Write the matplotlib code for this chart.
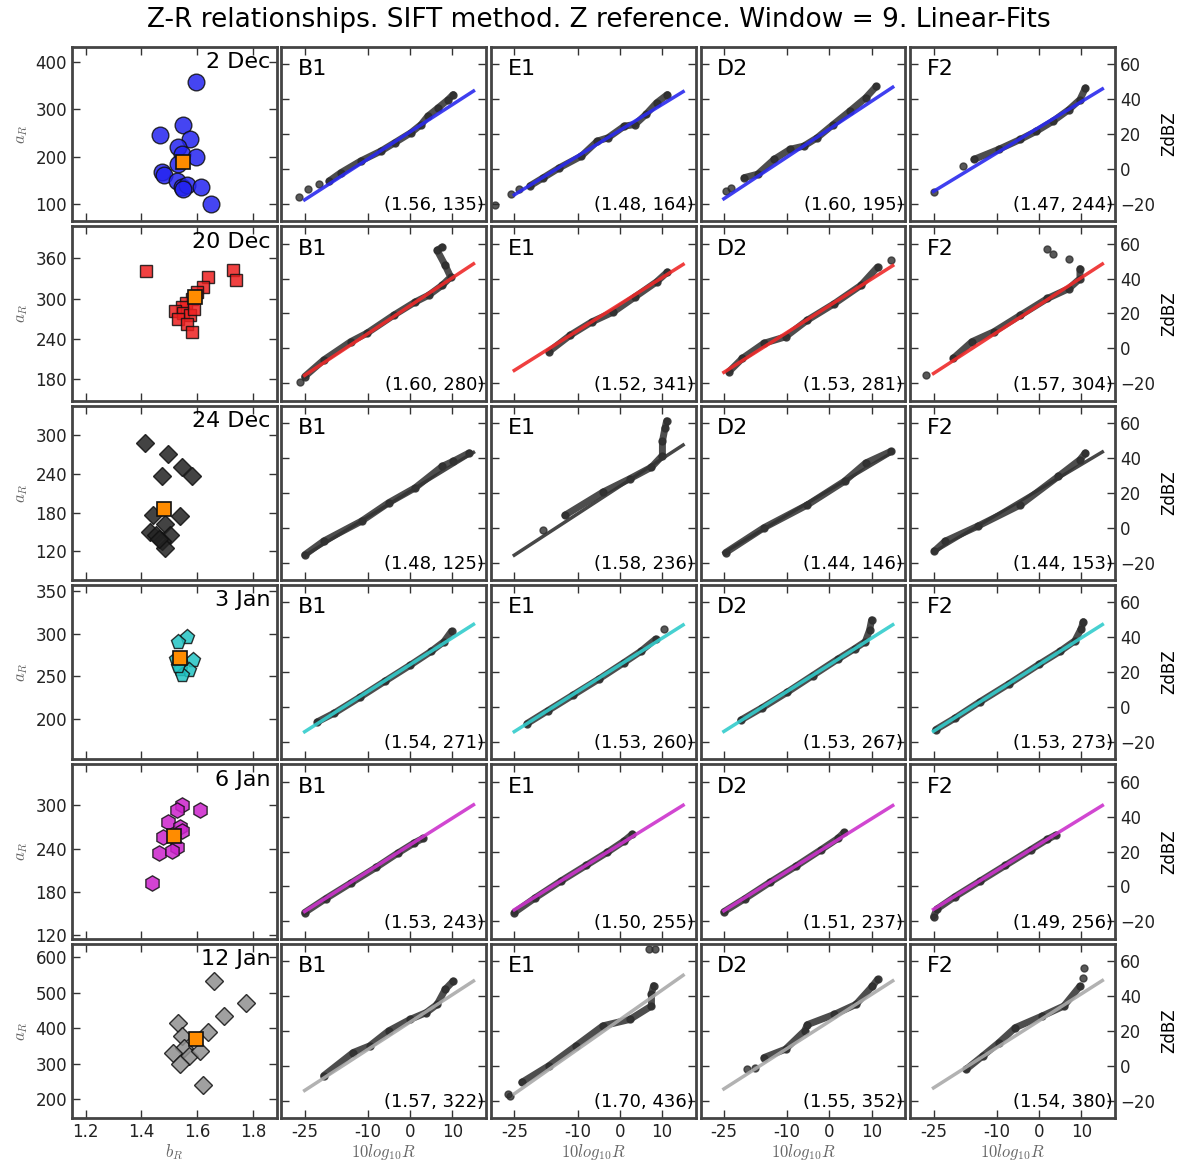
import matplotlib
matplotlib.use("Agg")
import matplotlib.pyplot as plt
import numpy as np

plt.rcParams['mathtext.fontset'] = 'cm'

# rows = days, columns = gauges
dates = ['2 Dec', '20 Dec', '24 Dec', '3 Jan', '6 Jan', '12 Jan']
gauges = ['B1', 'E1', 'D2', 'F2']

# fitted (b, a) shown in each panel
fit_b = [[1.56, 1.48, 1.60, 1.47],
         [1.60, 1.52, 1.53, 1.57],
         [1.48, 1.58, 1.44, 1.44],
         [1.54, 1.53, 1.53, 1.53],
         [1.53, 1.50, 1.51, 1.49],
         [1.57, 1.70, 1.55, 1.54]]
fit_a = [[135, 164, 195, 244],
         [280, 341, 281, 304],
         [125, 236, 146, 153],
         [271, 260, 267, 273],
         [243, 255, 237, 256],
         [322, 436, 352, 380]]

# left column: b_R / a_R clouds for each day
bR_2dec = [1.597, 1.466, 1.549, 1.573, 1.531, 1.544, 1.597, 1.531, 1.475, 1.48, 1.526, 1.544, 1.562, 1.549, 1.615, 1.651]
aR_2dec = [358, 246, 266, 237, 220, 206, 199, 185, 167, 160, 148, 135, 139, 131, 135, 100]
bR_20dec = [1.415, 1.728, 1.74, 1.64, 1.62, 1.60, 1.58, 1.56, 1.545, 1.52, 1.55, 1.575, 1.53, 1.565, 1.58, 1.59]
aR_20dec = [341, 343, 328, 332, 318, 310, 300, 293, 288, 282, 278, 275, 270, 262, 250, 285]
bR_24dec = [1.412, 1.496, 1.474, 1.547, 1.580, 1.442, 1.538, 1.484, 1.432, 1.454, 1.502, 1.472, 1.484, 1.462]
aR_24dec = [287, 270, 236, 250, 237, 176, 175, 163, 150, 146, 146, 136, 125, 140]
bR_3jan = [1.562, 1.531, 1.585, 1.523, 1.538, 1.571, 1.544, 1.53]
aR_3jan = [296, 290, 269, 271, 259, 257, 252, 262]
bR_6jan = [1.544, 1.526, 1.609, 1.496, 1.538, 1.547, 1.478, 1.526, 1.463, 1.508, 1.439]
aR_6jan = [300, 294, 293, 277, 270, 264, 256, 242, 234, 237, 192]
bR_12jan = [1.660, 1.777, 1.696, 1.531, 1.639, 1.544, 1.552, 1.513, 1.571, 1.609, 1.538, 1.621]
aR_12jan = [534, 470, 434, 415, 390, 379, 344, 330, 321, 335, 300, 240]
mean_bR = [1.549, 1.591, 1.481, 1.538, 1.516, 1.597]
mean_aR = [188, 302, 186, 272, 258, 370]

# ZdBZ vs 10log10R, read along each cloud ("band") plus loose points ("dots")
band_2dec = {'B1': ([-19.2, -16.4, -11.7, -6.9, -3.7, 0.2, 2.6, 4.2, 6.6, 9.0, 10.2],
                    [-6.9, -2.1, 4.6, 10.3, 15.0, 20.8, 25.5, 30.3, 35.0, 39.8, 42.7]),
             'E1': ([-21.3, -18.1, -14.3, -9.1, -5.3, -2.8, 1.1, 3.6, 6.2, 8.7, 11.3],
                    [-9.7, -5.0, 0.7, 7.4, 16.0, 17.9, 24.6, 25.5, 31.3, 37.9, 42.7]),
             'D2': ([-20.2, -17, -13.1, -9.3, -6.1, -2.9, 0.9, 4.8, 8.6, 11.1],
                    [-5, -3, 5.5, 11.3, 13.1, 17.9, 25.5, 33.1, 40.8, 47.4]),
             'F2': ([-15.4, -9.5, -4.4, -0.6, 3.3, 7.1, 9.7, 11.0],
                    [5.5, 11.3, 17, 21.7, 27.4, 34.1, 39.8, 46.5])}
dots_2dec = {'B1': ([-26.4, -24.2, -21.6], [-16, -11.6, -8.7]),
             'E1': ([-29.6, -25.8, -23.8], [-20.6, -14.5, -11.6]),
             'D2': ([-24.6, -23.4], [-12.6, -10.7]),
             'F2': ([-24.8, -18], [-13.5, 1.7])}

band_20dec = {'B1': ([-25, -20.5, -14.1, -10.3, -3.9, 1.2, 4.4, 7.6, 9.6, 8.3, 6.4, 7.6],
                     [-16.2, -6.7, 3.8, 8.6, 19, 26.6, 30.5, 36.2, 40.9, 47.6, 56.2, 58.1]),
              'E1': ([-16.8, -11.7, -6.6, -1.5, 3.6, 8.7, 11.3],
                     [-1.9, 7.6, 15.2, 20.9, 29.5, 38.1, 43.8]),
              'D2': ([-23.8, -20.6, -15.5, -10.4, -5.2, 1.2, 7.5, 11.4],
                     [-13.4, -5.7, 2.9, 6.6, 16.2, 25.7, 36.2, 46.6]),
              'F2': ([-20.3, -15.9, -10.7, -4.4, 2.0, 7.1, 9.7, 9.7],
                     [-5.7, 3.8, 9.5, 19, 28.6, 34.3, 40, 45.7])}
dots_20dec = {'B1': ([-26.2], [-19.1]),
              'E1': ([], []),
              'D2': ([14.6], [50.5]),
              'F2': ([-26.7, 7.1, 3.3, 2.0], [-15.3, 51.4, 54.3, 57.1])}

band_24dec = {'B1': ([-25, -20.5, -11.5, -5.1, 1.2, 7.6, 10.2, 14],
                     [-15.6, -7.7, 3.8, 14.3, 22.9, 35.2, 38.1, 42.9]),
              'E1': ([-13, -4, 2.4, 7.5, 10.1, 10.1, 10.7, 11.1],
                     [7.1, 20.4, 28.1, 34.7, 41.4, 49.5, 57.1, 61.3]),
              'D2': ([-24.6, -15.5, -5.2, 3.6, 8.6, 14.6],
                     [-14.3, 0, 13.1, 26.7, 37.1, 43.8]),
              'F2': ([-24.8, -22.2, -14.5, -4.4, 4.6, 9.7, 11],
                     [-13.4, -7.7, 0.9, 13.1, 29.5, 39, 42.9])}
dots_24dec = {'B1': ([], []), 'E1': ([-18.1], [-1.5]), 'D2': ([], []), 'F2': ([], [])}

band_3jan = {'B1': ([-22, -18, -12, -6, 0, 5, 8, 9.8],
                    [-8.5, -3.5, 5.5, 14.8, 24, 32, 37.5, 43.5]),
             'E1': ([-22, -17, -11, -5, 1, 5, 8.5],
                    [-9.5, -2, 7, 16, 25.5, 32, 39]),
             'D2': ([-21, -16, -10, -4, 2, 6, 8.5, 9.5, 10],
                    [-7.5, -0.5, 8.5, 18, 27.5, 33.5, 37.5, 44, 50]),
             'F2': ([-24.5, -20, -14, -7, 0, 5, 8.5, 10, 10.5],
                    [-13, -6.5, 3, 13.5, 24.5, 32, 38, 45, 49])}
dots_3jan = {'B1': ([], []), 'E1': ([10.5], [45]), 'D2': ([], []), 'F2': ([], [])}

band_6jan = {'B1': ([-25, -20, -14, -8, -3, 1, 3],
                    [-15, -7, 2, 11, 19, 25, 27.5]),
             'E1': ([-25, -20, -14, -8, -3, 1, 3],
                    [-15, -6.5, 3, 12, 19.5, 26, 30]),
             'D2': ([-25, -20, -14, -8, -2, 2, 3.5],
                    [-14.5, -7, 2.5, 11.5, 21, 27.5, 31]),
             'F2': ([-25, -24.2, -20, -14, -8, -2, 2, 4],
                    [-17.5, -13, -6, 3, 12, 21, 27, 29.5])}
dots_6jan = {'B1': ([], []), 'E1': ([], []), 'D2': ([], []), 'F2': ([], [])}

band_12jan = {'B1': ([-20.5, -13.5, -9.6, -5.1, 0, 3.8, 6.4, 8.3, 10.2],
                     [-5.7, 7.6, 11.4, 20, 26.6, 30.5, 35.2, 43.8, 48.6]),
              'E1': ([-23.2, -16.8, -10.4, -4, 2.4, 7.5, 7.5, 8],
                     [-9.5, 0, 11.4, 22.9, 26.6, 34.3, 41, 46]),
              'D2': ([-15.5, -10.4, -5.9, -5.2, 1.2, 6.3, 10.2, 11.4],
                     [4.7, 9.5, 20, 23.6, 29.5, 35.2, 45.7, 49.5]),
              'F2': ([-17.2, -13.3, -9.5, -5.6, 0.8, 5.9, 9.7],
                     [-1.9, 5.7, 13.3, 21.9, 28.6, 34.3, 45.7])}
dots_12jan = {'B1': ([], []),
              'E1': ([-26.4, -26.0, 7.0, 8.3], [-16.2, -17.5, 67, 67]),
              'D2': ([-19.5, -17.6], [-1.9, -1]),
              'F2': ([10.4, 10.6], [50.5, 56.2])}

left_b = [bR_2dec, bR_20dec, bR_24dec, bR_3jan, bR_6jan, bR_12jan]
left_a = [aR_2dec, aR_20dec, aR_24dec, aR_3jan, aR_6jan, aR_12jan]
bands = [band_2dec, band_20dec, band_24dec, band_3jan, band_6jan, band_12jan]
dots = [dots_2dec, dots_20dec, dots_24dec, dots_3jan, dots_6jan, dots_12jan]

# styles
mk = ['o', 's', 'D', 'p', 'h', 'D']
mk_size = [12, 9, 9, 11, 11, 9]
mk_col = ['#2424f0', '#ee2020', '#222222', '#22c4c4', '#cc22cc', '#909090']
fit_col = ['#2a2aee', '#ee2a2a', '#333333', '#33cccc', '#cc33cc', '#aaaaaa']
left_ylim = [(63, 432), (148, 408), (76, 345), (153, 357), (115, 357), (147, 638)]
left_yticks = [[100, 200, 300, 400], [180, 240, 300, 360], [120, 180, 240, 300],
               [200, 250, 300, 350], [120, 180, 240, 300], [200, 300, 400, 500, 600]]

fig, axes = plt.subplots(6, 5, figsize=(11.97, 11.65), dpi=100)
fig.subplots_adjust(left=0.060, right=0.9315, top=0.9597, bottom=0.0403,
                    wspace=0.024, hspace=0.029)
fig.suptitle('Z-R relationships. SIFT method. Z reference. Window = 9. Linear-Fits',
             fontsize=19, y=0.994)

for ax in axes.flat:
    for sp in ax.spines.values():
        sp.set_linewidth(2)
        sp.set_color('#444444')
    ax.tick_params(direction='in', length=6, width=1, color='#333333',
                   top=True, right=True, labelsize=12, labelcolor='#222222')

for r in range(6):
    # left column
    ax = axes[r, 0]
    ax.plot(left_b[r], left_a[r], linestyle='none', marker=mk[r], ms=mk_size[r],
            mfc=mk_col[r], mec='#111111', mew=1, alpha=0.85)
    ax.plot(mean_bR[r], mean_aR[r], linestyle='none', marker='s', ms=10,
            mfc='#ff8c00', mec='#111111', mew=1.2)
    ax.set_xlim(1.15, 1.885)
    ax.set_ylim(left_ylim[r])
    ax.set_xticks([1.2, 1.4, 1.6, 1.8])
    ax.set_yticks(left_yticks[r])
    ax.set_ylabel('$a_R$', fontsize=12, color='#666666')
    ax.text(0.97, 0.97, dates[r], transform=ax.transAxes, ha='right', va='top', fontsize=16)
    if r == 5:
        ax.set_xlabel('$b_R$', fontsize=12, color='#666666', labelpad=1)
    else:
        ax.tick_params(labelbottom=False)

    # gauge panels
    for c in range(4):
        ax = axes[r, c + 1]
        g = gauges[c]
        bx, by = bands[r][g]
        ax.plot(bx, by, color='#2e2e2e', lw=5, alpha=0.85, solid_capstyle='round',
                solid_joinstyle='round', marker='o', ms=5)
        dx, dy = dots[r][g]
        ax.plot(dx, dy, linestyle='none', color='#2e2e2e', marker='o', ms=5, alpha=0.8)
        b = fit_b[r][c]
        a = fit_a[r][c]
        xf = np.array([-25, 15])
        ax.plot(xf, 10 * np.log10(a) + b * xf, color=fit_col[r], lw=2.5, alpha=0.9)
        ax.set_xlim(-30.5, 18)
        ax.set_ylim(-30, 70)
        ax.set_xticks([-25, -10, 0, 10])
        ax.set_yticks([-20, 0, 20, 40, 60])
        ax.text(0.08, 0.93, g, transform=ax.transAxes, ha='left', va='top', fontsize=16)
        ax.text(0.99, 0.04, '(%.2f, %d)' % (b, a), transform=ax.transAxes,
                ha='right', va='bottom', fontsize=13)
        if c == 3:
            ax.tick_params(labelleft=False, labelright=True)
            ax.yaxis.set_label_position('right')
            ax.set_ylabel('ZdBZ', fontsize=12)
        else:
            ax.tick_params(labelleft=False)
        if r == 5:
            ax.set_xticklabels(['-25', '-10', '0', '10'])
            ax.set_xlabel('$10log_{10}R$', fontsize=12, color='#666666', labelpad=1)
        else:
            ax.tick_params(labelbottom=False)

plt.savefig('out.png', dpi=100)
